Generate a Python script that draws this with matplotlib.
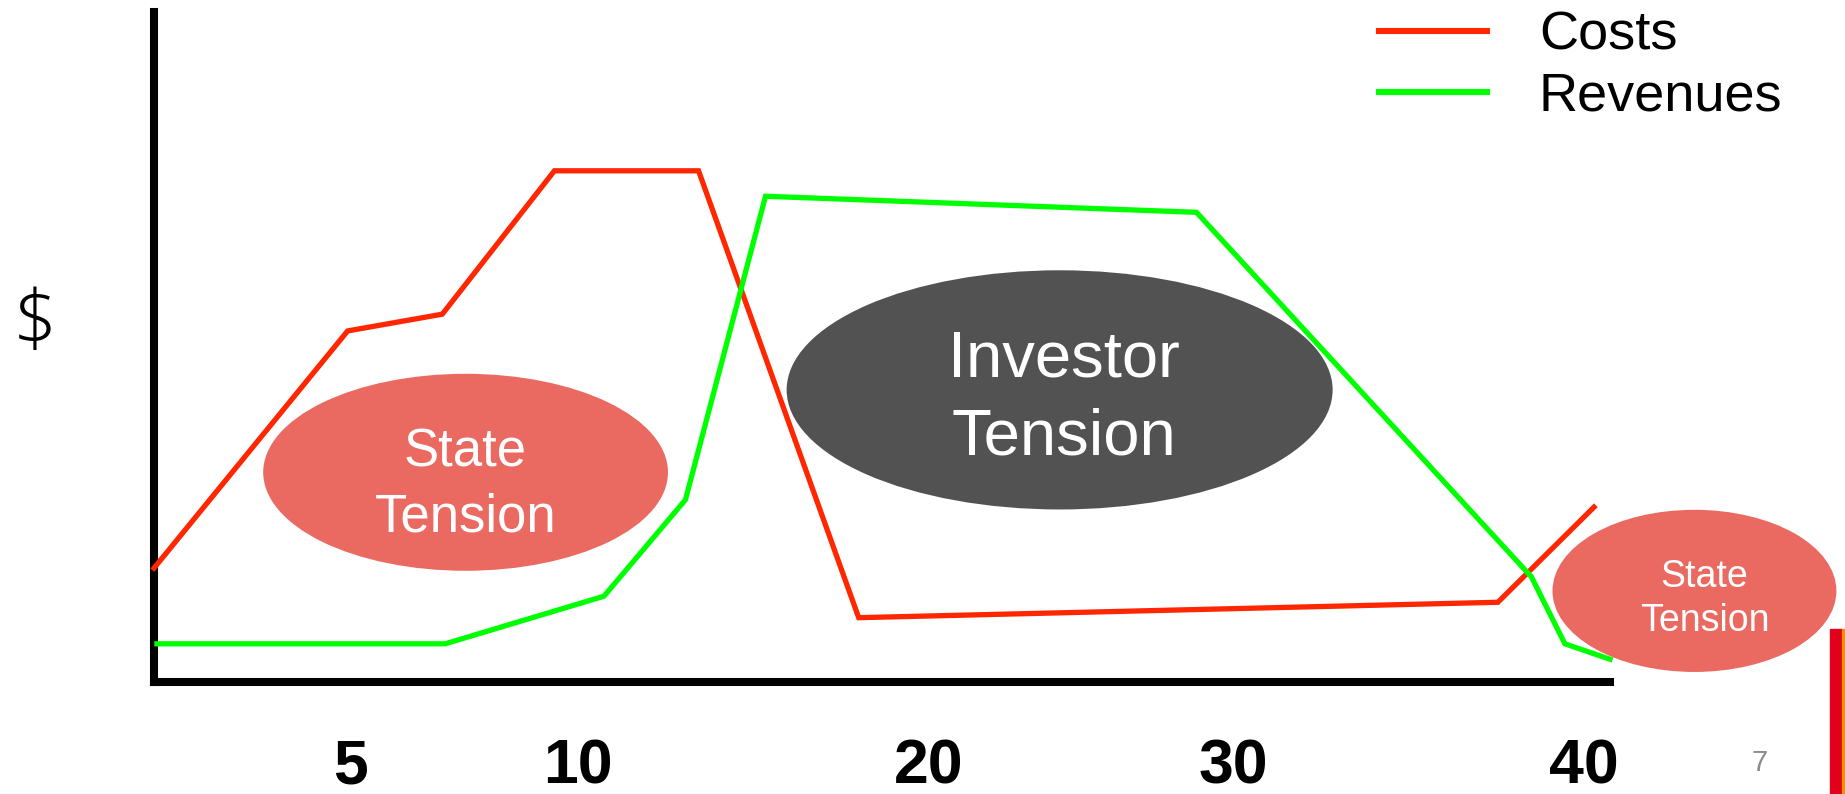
import matplotlib
matplotlib.use('Agg')
from matplotlib import pyplot as plt
from matplotlib.patches import Ellipse, Rectangle

# time runs 0..100 along the drawn x axis, money 0..100 up the y axis
cost_x = [0, 13.3, 19.8, 27.5, 37.4, 48.4, 92.3, 98.9]
cost_y = [17.0, 52.4, 54.9, 76.3, 76.3, 9.6, 11.9, 26.1]
rev_x = [0.2, 20.0, 30.9, 36.5, 42.0, 71.6, 94.6, 96.9, 100.0]
rev_y = [5.7, 5.7, 12.8, 27.2, 72.5, 70.1, 15.7, 5.7, 3.4]

tick_pos = [13.5, 29.1, 53.2, 74.1, 98.2]
tick_labels = ['5', '10', '20', '30', '40']

# tension bubbles
bubble_labels = ['State\nTension', 'Investor\nTension', 'State\nTension']
bubble_x = [21.4, 62.2, 105.8]
bubble_y = [31.3, 43.6, 13.6]
bubble_w = [27.8, 37.5, 19.5]
bubble_h = [29.4, 35.7, 24.2]
bubble_colors = ['#EA6961', '#525252', '#EA6961']
bubble_fs = [38, 47, 27]
text_dx = [0, 0.3, 0.7]
text_dy = [-1.9, -1.3, -1.2]
text_ls = [1.37, 1.37, 1.27]

plt.rcParams['font.family'] = ['Liberation Sans', 'DejaVu Sans']

fig = plt.figure(figsize=(18.45, 7.94), dpi=100)
ax = fig.add_axes([154 / 1845, 1 - 682 / 794, (1610 - 154) / 1845, (682 - 12) / 794])

for x, y, w, h, c, lab, fs, dx, dy, ls in zip(bubble_x, bubble_y, bubble_w, bubble_h,
                                              bubble_colors, bubble_labels, bubble_fs,
                                              text_dx, text_dy, text_ls):
    ax.add_patch(Ellipse((x, y), w, h, facecolor=c, edgecolor='none',
                         clip_on=False, zorder=1))
    ax.text(x + dx, y + dy, lab, color='white', fontsize=fs, ha='center',
            va='center', multialignment='center', linespacing=ls,
            clip_on=False, zorder=2)

ax.plot(cost_x, cost_y, color='#FF2600', lw=3.8, label='Costs', zorder=3,
        clip_on=False, solid_joinstyle='miter')
ax.plot(rev_x, rev_y, color='#00FF00', lw=3.8, label='Revenues', zorder=3,
        clip_on=False, solid_joinstyle='miter')

ax.set_xlim(0, 100)
ax.set_ylim(0, 100)
ax.set_xticks(tick_pos)
ax.set_xticklabels(tick_labels, fontsize=45, fontweight='bold')
ax.set_yticks([])
ax.tick_params(axis='x', length=0, pad=40)
for side in ['top', 'right']:
    ax.spines[side].set_visible(False)
for side in ['left', 'bottom']:
    ax.spines[side].set_linewidth(5.8)
    ax.spines[side].set_color('black')

leg = ax.legend(loc='upper left', bbox_to_anchor=(1379 / 1845, 1 - 11 / 794),
                bbox_transform=fig.transFigure, frameon=False, fontsize=39,
                handlelength=2.0, handletextpad=0.95, borderpad=0,
                borderaxespad=0, labelspacing=0.2)
for line in leg.get_lines():
    line.set_linewidth(4.4)

fig.text(35 / 1845, 1 - 325 / 794, '$', fontsize=56, family='Open Sans',
         fontweight='light', ha='center', va='center')
fig.text(1760 / 1845, 1 - 763 / 794, '7', fontsize=21, color='#8C8C8C',
         ha='center', va='center')

# slide edge marker
fig.patches.append(Rectangle((1830 / 1845, 0), 12 / 1845, 165 / 794,
                             transform=fig.transFigure, color='#E2001A'))
fig.patches.append(Rectangle((1842 / 1845, 0), 3 / 1845, 165 / 794,
                             transform=fig.transFigure, color='#F39200'))

fig.savefig('out.png', dpi=100)
